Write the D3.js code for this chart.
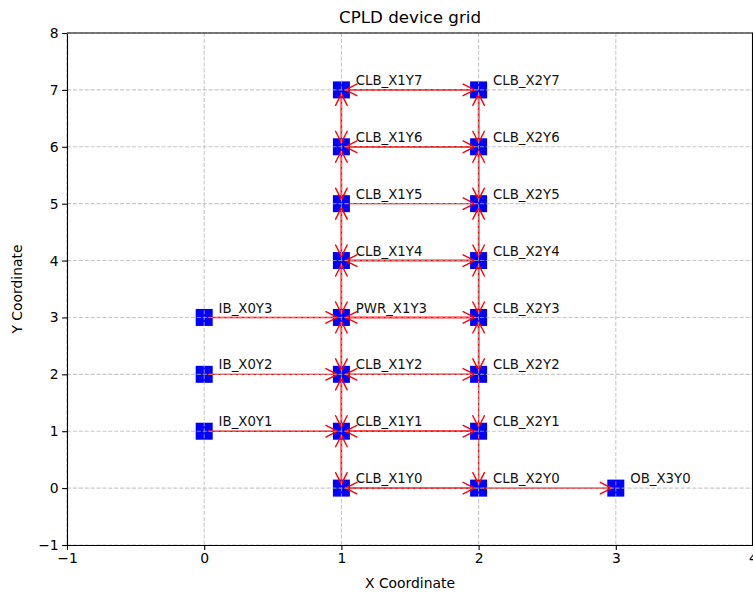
<!DOCTYPE html>
<html>
<head>
<meta charset="utf-8">
<script src="https://cdn.jsdelivr.net/npm/d3@7"></script>
<style>
html,body{margin:0;padding:0;background:#fff;}
svg{display:block;font-family:"DejaVu Sans",sans-serif;}
</style>
</head>
<body>
<svg id="chart" width="753" height="596"></svg>
<script>
// ---- data ----
const nodeNames = ["IB_X0Y1","IB_X0Y2","IB_X0Y3",
  "CLB_X1Y0","CLB_X1Y1","CLB_X1Y2","PWR_X1Y3","CLB_X1Y4","CLB_X1Y5","CLB_X1Y6","CLB_X1Y7",
  "CLB_X2Y0","CLB_X2Y1","CLB_X2Y2","CLB_X2Y3","CLB_X2Y4","CLB_X2Y5","CLB_X2Y6","CLB_X2Y7",
  "OB_X3Y0"];
const nodeX = [0,0,0, 1,1,1,1,1,1,1,1, 2,2,2,2,2,2,2,2, 3];
const nodeY = [1,2,3, 0,1,2,3,4,5,6,7, 0,1,2,3,4,5,6,7, 0];
const edgeSource = [
  "IB_X0Y1","IB_X0Y2","IB_X0Y3","CLB_X2Y0",
  // horizontal x1 <-> x2
  "CLB_X1Y0","CLB_X2Y0","CLB_X1Y1","CLB_X2Y1","CLB_X1Y2","CLB_X2Y2","PWR_X1Y3","CLB_X2Y3",
  "CLB_X1Y4","CLB_X2Y4","CLB_X1Y5","CLB_X1Y6","CLB_X2Y6","CLB_X1Y7","CLB_X2Y7",
  // vertical x1
  "CLB_X1Y0","CLB_X1Y1","CLB_X1Y1","CLB_X1Y2","CLB_X1Y2","PWR_X1Y3","PWR_X1Y3","CLB_X1Y4",
  "CLB_X1Y4","CLB_X1Y5","CLB_X1Y5","CLB_X1Y6","CLB_X1Y6","CLB_X1Y7",
  // vertical x2
  "CLB_X2Y1","CLB_X2Y2","CLB_X2Y2","CLB_X2Y3","CLB_X2Y3","CLB_X2Y4","CLB_X2Y4","CLB_X2Y5",
  "CLB_X2Y5","CLB_X2Y6","CLB_X2Y6","CLB_X2Y7"];
const edgeTarget = [
  "CLB_X1Y1","CLB_X1Y2","PWR_X1Y3","OB_X3Y0",
  "CLB_X2Y0","CLB_X1Y0","CLB_X2Y1","CLB_X1Y1","CLB_X2Y2","CLB_X1Y2","CLB_X2Y3","PWR_X1Y3",
  "CLB_X2Y4","CLB_X1Y4","CLB_X2Y5","CLB_X2Y6","CLB_X1Y6","CLB_X2Y7","CLB_X1Y7",
  "CLB_X1Y1","CLB_X1Y0","CLB_X1Y2","CLB_X1Y1","PWR_X1Y3","CLB_X1Y2","CLB_X1Y4","PWR_X1Y3",
  "CLB_X1Y5","CLB_X1Y4","CLB_X1Y6","CLB_X1Y5","CLB_X1Y7","CLB_X1Y6",
  "CLB_X2Y0","CLB_X2Y1","CLB_X2Y3","CLB_X2Y2","CLB_X2Y4","CLB_X2Y3","CLB_X2Y5","CLB_X2Y4",
  "CLB_X2Y6","CLB_X2Y5","CLB_X2Y7","CLB_X2Y6"];
const xTicks = [-1,0,1,2,3,4];
const yTicks = [-1,0,1,2,3,4,5,6,7,8];
const title = "CPLD device grid";
const xLabel = "X Coordinate";
const yLabel = "Y Coordinate";

// ---- layout ----
const svg = d3.select("#chart");
const L = 67, R = 753, T = 33, B = 545;
const x = d3.scaleLinear().domain([-1,4]).range([L,R]);
const y = d3.scaleLinear().domain([-1,8]).range([B,T]);
const pos = {};
nodeNames.forEach((n,i)=>pos[n]={x:nodeX[i],y:nodeY[i]});
const fmt = d => (d<0 ? "\u2212"+Math.abs(d) : String(d));

// nodes (bottom layer)
const NS = 17;
svg.append("g").selectAll("rect").data(nodeNames).join("rect")
  .attr("x", n=>x(pos[n].x)-NS/2).attr("y", n=>y(pos[n].y)-NS/2)
  .attr("width", NS).attr("height", NS)
  .attr("fill", "#0000ff");

// edges with open arrow heads
const shrink = 4, headLen = 11.5, headW = 5.8;
const eg = svg.append("g").attr("stroke","#ff0000").attr("stroke-width",1.4)
  .attr("fill","none").attr("stroke-linecap","round").attr("stroke-linejoin","round");
edgeSource.forEach((s,i)=>{
  const t = edgeTarget[i];
  const x1 = x(pos[s].x), y1 = y(pos[s].y), x2 = x(pos[t].x), y2 = y(pos[t].y);
  const dx = x2-x1, dy = y2-y1, len = Math.hypot(dx,dy);
  const ux = dx/len, uy = dy/len;
  const sx = x1+ux*shrink, sy = y1+uy*shrink;
  const ex = x2-ux*shrink, ey = y2-uy*shrink;
  eg.append("line").attr("x1",sx).attr("y1",sy).attr("x2",ex).attr("y2",ey);
  const bx = ex-ux*headLen, by = ey-uy*headLen;
  const px = -uy, py = ux;
  eg.append("path").attr("d",
    `M${bx+px*headW},${by+py*headW}L${ex},${ey}L${bx-px*headW},${by-py*headW}`);
});

// grid on top
const gg = svg.append("g").attr("stroke","#b0b0b0").attr("stroke-opacity",0.7)
  .attr("stroke-width",1.1).attr("stroke-dasharray","4.1,1.8");
xTicks.forEach(v=>gg.append("line").attr("x1",x(v)).attr("x2",x(v)).attr("y1",T).attr("y2",B));
yTicks.forEach(v=>gg.append("line").attr("x1",L).attr("x2",R).attr("y1",y(v)).attr("y2",y(v)));

// node labels
svg.append("g").selectAll("text").data(nodeNames).join("text")
  .attr("x", n=>x(pos[n].x+0.105)).attr("y", n=>y(pos[n].y+0.085))
  .attr("font-size","13.3px").attr("fill","#111").text(n=>n);

// axes
const xa = svg.append("g").attr("transform",`translate(0,${B})`)
  .call(d3.axisBottom(x).tickValues(xTicks).tickFormat(fmt).tickSize(4.9).tickPadding(3.5).tickSizeOuter(0));
const ya = svg.append("g").attr("transform",`translate(${L},0)`)
  .call(d3.axisLeft(y).tickValues(yTicks).tickFormat(fmt).tickSize(4.9).tickPadding(3.5).tickSizeOuter(0));
[xa,ya].forEach(a=>{
  a.selectAll("text").attr("font-size","13.9px").attr("fill","#000").attr("font-family","DejaVu Sans");
  a.selectAll("line").attr("stroke","#000").attr("stroke-width",1.1);
  a.select(".domain").attr("stroke","#000").attr("stroke-width",1.1);
});
// top/right spines
svg.append("line").attr("x1",L).attr("x2",R).attr("y1",T).attr("y2",T).attr("stroke","#000").attr("stroke-width",1.1);
svg.append("line").attr("x1",R-0.5).attr("x2",R-0.5).attr("y1",T).attr("y2",B).attr("stroke","#000").attr("stroke-width",1.1);

// titles
svg.append("text").attr("x",(L+R)/2).attr("y",23).attr("text-anchor","middle")
  .attr("font-size","16.7px").attr("fill","#000").text(title);
svg.append("text").attr("x",(L+R)/2).attr("y",588).attr("text-anchor","middle")
  .attr("font-size","13.9px").attr("fill","#000").text(xLabel);
svg.append("text").attr("transform",`translate(22,${(T+B)/2}) rotate(-90)`).attr("text-anchor","middle")
  .attr("font-size","13.9px").attr("fill","#000").text(yLabel);
</script>
</body>
</html>
